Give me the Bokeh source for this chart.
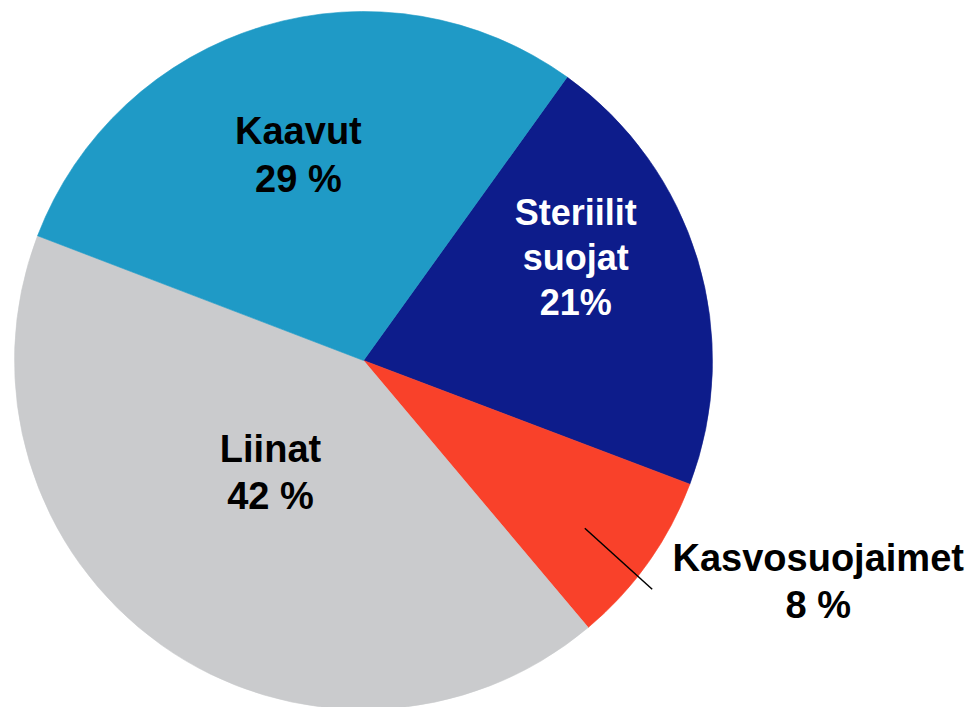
import math
from bokeh.plotting import figure
from bokeh.models import Range1d, ColumnDataSource
from bokeh.core.properties import value
from bokeh.embed import file_html
from bokeh.resources import INLINE

# ---- data ----
categories = ["Steriilit suojat", "Kasvosuojaimet", "Liinat", "Kaavut"]
shares = [20.85, 8.1, 41.95, 29.1]
colors = ["#0D1C8B", "#F9412A", "#CACBCD", "#1F9AC6"]
label_lines = [["Steriilit", "suojat", "21%"],
               ["Kasvosuojaimet", "8 %"],
               ["Liinat", "42 %"],
               ["Kaavut", "29 %"]]

# ---- layout ----
W, H = 971, 707
start_deg = 54.3  # first slice begins here, slices run clockwise
text_shift = 13.5  # renderer baseline correction (px)


def sx(x):
    return x


def sy(y):
    return H - y


cx, cy, R = sx(363), sy(360), 349

# label anchor (screen px): center x, first baseline y, line step, font size, color
label_layout = [
    (575.3, 225.7, 44.8, 36, "white"),
    (817.7, 570.7, 47.6, 38, "black"),
    (270.0, 461.7, 47.4, 38, "black"),
    (297.9, 144.0, 47.7, 38, "black"),
]

p = figure(width=W, height=H, output_backend="svg", toolbar_location=None,
           x_range=Range1d(0, W), y_range=Range1d(0, H), min_border=0,
           background_fill_color="white", border_fill_color="white")
p.axis.visible = False
p.grid.visible = False
p.outline_line_color = None

total = sum(shares)
cum = 0.0
starts, ends = [], []
for s in shares:
    a_hi = math.radians(start_deg - cum / total * 360.0)
    cum += s
    a_lo = math.radians(start_deg - cum / total * 360.0)
    starts.append(a_lo)
    ends.append(a_hi)

src = ColumnDataSource(dict(x=[cx] * len(shares), y=[cy] * len(shares),
                            start=starts, end=ends, color=colors, name=categories))
p.wedge(x="x", y="y", radius=R, start_angle="start", end_angle="end",
        fill_color="color", line_color="color", line_width=0.6, source=src)

# leader line for small slice
p.line(x=[sx(584.3), sx(651.7)], y=[sy(527.7), sy(588.7)], line_color="black", line_width=1.5)

for lines, (lx, ly, step, fs, col) in zip(label_lines, label_layout):
    xs = [sx(lx)] * len(lines)
    ys = [sy(ly - text_shift + i * step) for i in range(len(lines))]
    p.text(x=xs, y=ys, text=lines, text_align="center", text_baseline="alphabetic",
           text_font=value("Liberation Sans"), text_font_style="bold",
           text_font_size=f"{fs}px", text_color=col)

open("out.html", "w").write(file_html(p, INLINE))
